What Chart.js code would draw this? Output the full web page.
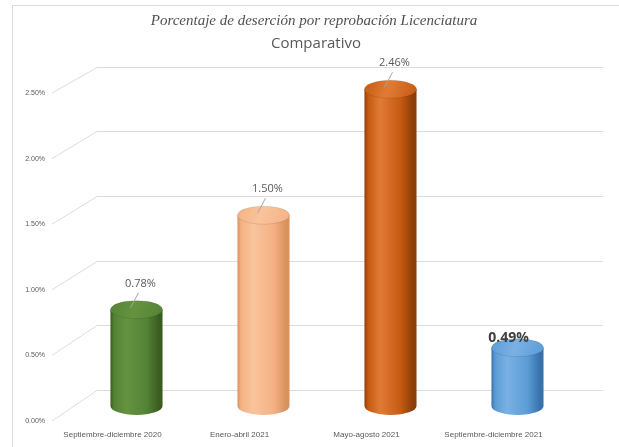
<!DOCTYPE html>
<html>
<head>
<meta charset="utf-8">
<script src="https://cdn.jsdelivr.net/npm/chart.js@4.4.0/dist/chart.umd.min.js"></script>
<style>
  html, body { margin: 0; padding: 0; background: #fff; }
  canvas { display: block; }
</style>
</head>
<body>
<canvas id="chart" width="619" height="447"></canvas>
<script>
const periodos = ['Septiembre-diciembre 2020', 'Enero-abril 2021', 'Mayo-agosto 2021', 'Septiembre-diciembre 2021'];
const porcentajes = [0.78, 1.50, 2.46, 0.49];
const etiquetas = ['0.78%', '1.50%', '2.46%', '0.49%'];
const ticksY = [0, 0.5, 1.0, 1.5, 2.0, 2.5];

// dark / mid / light shades for each cylinder
const colores = [
    ['#3a5c21', '#548235', '#66933f'],
    ['#d8925e', '#f4b183', '#f9c49d'],
    ['#8c3d0a', '#c55a11', '#e07b36'],
    ['#3872aa', '#5b9bd5', '#79b1e4'],
];

const backY = (y) => y * 0.985 - 16;

const fondo = {
    id: 'fondo',
    beforeDraw(chart) {
        const ctx = chart.ctx;
        const y = chart.scales.y;
        ctx.save();
        // chart border (left + top)
        ctx.strokeStyle = '#d9d9d9';
        ctx.lineWidth = 1;
        ctx.beginPath();
        ctx.moveTo(12.5, 447);
        ctx.lineTo(12.5, 5.5);
        ctx.lineTo(619, 5.5);
        ctx.stroke();

        // 3d style gridlines: floor diagonal + back wall line
        ctx.strokeStyle = '#dcdcdc';
        ticksY.forEach(v => {
            const py = y.getPixelForValue(v);
            const by = Math.round(backY(py)) + 0.5;
            ctx.beginPath();
            ctx.moveTo(52, py + 9);
            ctx.lineTo(97, by);
            ctx.lineTo(603, by);
            ctx.stroke();
        });

        // titles
        ctx.textAlign = 'center';
        ctx.textBaseline = 'middle';
        ctx.fillStyle = '#505050';
        ctx.font = 'italic 15px "Liberation Serif"';
        ctx.fillText('Porcentaje de deserción por reprobación Licenciatura', 314, 21);
        ctx.fillStyle = '#595959';
        ctx.font = '15px "Open Sans"';
        ctx.fillText('Comparativo', 316, 44);
        ctx.restore();
    }
};

const cilindros = {
    id: 'cilindros',
    afterDatasetsDraw(chart) {
        const ctx = chart.ctx;
        const meta = chart.getDatasetMeta(0);
        ctx.save();
        meta.data.forEach((bar, i) => {
            const [oscuro, medio, claro] = colores[i];
            const rx = bar.width / 2;
            const ry = 9;
            const x0 = bar.x - rx, x1 = bar.x + rx;
            const top = bar.y;
            const base = bar.base - 6;

            const g = ctx.createLinearGradient(x0, 0, x1, 0);
            g.addColorStop(0, oscuro);
            g.addColorStop(0.07, medio);
            g.addColorStop(0.3, claro);
            g.addColorStop(0.7, medio);
            g.addColorStop(0.93, oscuro);
            g.addColorStop(1, oscuro);

            ctx.fillStyle = g;
            ctx.beginPath();
            ctx.moveTo(x0, top);
            ctx.lineTo(x0, base);
            ctx.ellipse(bar.x, base, rx, ry, 0, Math.PI, 0, true);
            ctx.lineTo(x1, top);
            ctx.closePath();
            ctx.fill();

            const gt = ctx.createLinearGradient(x0, top - ry, x1, top + ry);
            gt.addColorStop(0, medio);
            gt.addColorStop(0.45, claro);
            gt.addColorStop(1, medio);
            ctx.fillStyle = gt;
            ctx.beginPath();
            ctx.ellipse(bar.x, top, rx, ry, 0, 0, Math.PI * 2);
            ctx.fill();
            ctx.strokeStyle = 'rgba(0,0,0,0.1)';
            ctx.lineWidth = 1;
            ctx.stroke();

            // data labels
            ctx.textAlign = 'center';
            ctx.textBaseline = 'middle';
            if (i === 3) {
                ctx.fillStyle = '#404040';
                ctx.font = 'bold 14px "Open Sans"';
                ctx.fillText(etiquetas[i], bar.x - 9, top - 10);
            } else {
                ctx.fillStyle = '#595959';
                ctx.font = '11px "Open Sans"';
                ctx.fillText(etiquetas[i], bar.x + 4, top - 26);
                ctx.strokeStyle = '#a6a6a6';
                ctx.beginPath();
                ctx.moveTo(bar.x + 2, top - 17);
                ctx.lineTo(bar.x - 6, top - 2);
                ctx.stroke();
            }
        });
        ctx.restore();
    }
};

new Chart(document.getElementById('chart'), {
    type: 'bar',
    data: {
        labels: periodos,
        datasets: [{
            data: porcentajes,
            backgroundColor: 'rgba(0,0,0,0)',
            borderWidth: 0,
            barPercentage: 0.41,
            categoryPercentage: 1,
        }],
    },
    options: {
        responsive: false,
        animation: false,
        devicePixelRatio: 1,
        layout: { padding: { top: 84, right: 38, bottom: 0, left: 13 } },
        plugins: {
            legend: { display: false },
            tooltip: { enabled: false },
        },
        scales: {
            y: {
                min: 0,
                max: 2.5,
                border: { display: false },
                grid: { display: false, drawTicks: false },
                afterFit: (scale) => { scale.width = 60; },
                afterBuildTicks: (scale) => { scale.ticks = ticksY.map(v => ({ value: v })); },
                ticks: {
                    padding: 28,
                    labelOffset: 9,
                    color: '#595959',
                    font: { family: 'Liberation Sans', size: 7 },
                    callback: (v) => v.toFixed(2) + '%',
                },
            },
            x: {
                border: { display: false },
                grid: { display: false, drawTicks: false },
                afterFit: (scale) => { scale.height = 35; },
                ticks: {
                    padding: 18,
                    labelOffset: -24,
                    maxRotation: 0,
                    autoSkip: false,
                    color: '#595959',
                    font: { family: 'Liberation Sans', size: 8 },
                },
            },
        },
    },
    plugins: [fondo, cilindros],
});
</script>
</body>
</html>
